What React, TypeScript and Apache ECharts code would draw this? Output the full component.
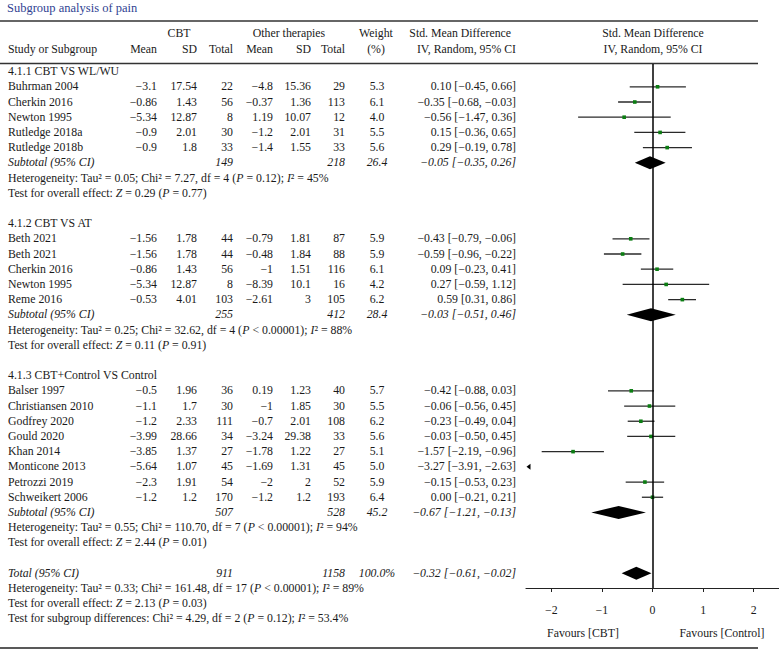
import React, { useEffect, useRef } from "react";
import * as echarts from "echarts";

const FONT = '"Liberation Serif", "Times New Roman", serif';
const FS = 11.8;
const TXT = "#1a1a1a";

// ---------- data ----------
const groupTitles = ["4.1.1 CBT VS WL/WU", "4.1.2 CBT VS AT", "4.1.3 CBT+Control VS Control"];
const studyGroup = [0, 0, 0, 0, 0, 1, 1, 1, 1, 1, 2, 2, 2, 2, 2, 2, 2, 2];
const studyNames = [
  "Buhrman 2004", "Cherkin 2016", "Newton 1995", "Rutledge 2018a", "Rutledge 2018b",
  "Beth 2021", "Beth 2021", "Cherkin 2016", "Newton 1995", "Reme 2016",
  "Balser 1997", "Christiansen 2010", "Godfrey 2020", "Gould 2020", "Khan 2014",
  "Monticone 2013", "Petrozzi 2019", "Schweikert 2006",
];
const cbtMean = [-3.1, -0.86, -5.34, -0.9, -0.9, -1.56, -1.56, -0.86, -5.34, -0.53, -0.5, -1.1, -1.2, -3.99, -3.85, -5.64, -2.3, -1.2];
const cbtSD = [17.54, 1.43, 12.87, 2.01, 1.8, 1.78, 1.78, 1.43, 12.87, 4.01, 1.96, 1.7, 2.33, 28.66, 1.37, 1.07, 1.91, 1.2];
const cbtTotal = [22, 56, 8, 30, 33, 44, 44, 56, 8, 103, 36, 30, 111, 34, 27, 45, 54, 170];
const otherMean = [-4.8, -0.37, 1.19, -1.2, -1.4, -0.79, -0.48, -1, -8.39, -2.61, 0.19, -1, -0.7, -3.24, -1.78, -1.69, -2, -1.2];
const otherSD = [15.36, 1.36, 10.07, 2.01, 1.55, 1.81, 1.84, 1.51, 10.1, 3, 1.23, 1.85, 2.01, 29.38, 1.22, 1.31, 2, 1.2];
const otherTotal = [29, 113, 12, 31, 33, 87, 88, 116, 16, 105, 40, 30, 108, 33, 27, 45, 52, 193];
const weights = [5.3, 6.1, 4.0, 5.5, 5.6, 5.9, 5.9, 6.1, 4.2, 6.2, 5.7, 5.5, 6.2, 5.6, 5.1, 5.0, 5.9, 6.4];
const smd = [0.10, -0.35, -0.56, 0.15, 0.29, -0.43, -0.59, 0.09, 0.27, 0.59, -0.42, -0.06, -0.23, -0.03, -1.57, -3.27, -0.15, 0.00];
const smdLow = [-0.45, -0.68, -1.47, -0.36, -0.19, -0.79, -0.96, -0.23, -0.59, 0.31, -0.88, -0.56, -0.49, -0.50, -2.19, -3.91, -0.53, -0.21];
const smdHigh = [0.66, -0.03, 0.36, 0.65, 0.78, -0.06, -0.22, 0.41, 1.12, 0.86, 0.03, 0.45, 0.04, 0.45, -0.96, -2.63, 0.23, 0.21];

const subCbtTotal = [149, 255, 507];
const subOtherTotal = [218, 412, 528];
const subWeight = [26.4, 28.4, 45.2];
const subSmd = [-0.05, -0.03, -0.67];
const subLow = [-0.35, -0.51, -1.21];
const subHigh = [0.26, 0.46, -0.13];
const hetTau = ["0.05", "0.25", "0.55"];
const hetChi = ["7.27", "32.62", "110.70"];
const hetDf = [4, 4, 7];
const hetP = ["= 0.12", "< 0.00001", "< 0.00001"];
const hetI2 = ["45%", "88%", "94%"];
const effZ = ["0.29", "0.11", "2.44"];
const effP = ["0.77", "0.91", "0.01"];

const totalCbt = 911;
const totalOther = 1158;
const totalWeight = "100.0%";
const totalSmd = -0.32;
const totalLow = -0.61;
const totalHigh = -0.02;
const totalHet = { tau: "0.33", chi: "161.48", df: 17, p: "< 0.00001", i2: "89%" };
const totalEff = { z: "2.13", p: "0.03" };
const subgroupDiff = { chi: "4.29", df: 2, p: "0.12", i2: "53.4%" };

const xTicks = [-2, -1, 0, 1, 2];
const xMin = -2.5;
const xMax = 2.5;

// ---------- layout ----------
const X_NAME = 8, X_MEAN = 157, X_SD = 197, X_N = 233, X_OMEAN = 273, X_OSD = 311, X_ON = 345, X_W = 377, X_SMD = 516;

const minus = (s: string) => s.replace(/^-/, "\u2212");
const fmt = (v: number) => minus(String(v));
const fmt2 = (v: number) => (v < 0 ? "\u2212" : "") + Math.abs(v).toFixed(2);
const ciText = (e: number, l: number, h: number) => `${fmt2(e)} [${fmt2(l)}, ${fmt2(h)}]`;
const hetText = (tau: string, chi: string, df: number, p: string, i2: string) =>
  `Heterogeneity: Tau\u00B2 = ${tau}; Chi\u00B2 = ${chi}, df = ${df} ({i|P} ${p}); {i|I}\u00B2 = ${i2}`;
const effText = (z: string, p: string) => `Test for overall effect: {i|Z} = ${z} ({i|P} = ${p})`;

type Row = { row: number; kind: string; cells: any[] };
const tableRows: Row[] = [];
const studyRows: number[][] = [];
const diamondRows: number[][] = [];
let r = -1;
for (let g = 0; g < groupTitles.length; g++) {
  tableRows.push({ row: r, kind: "head", cells: [groupTitles[g]] });
  r++;
  studyGroup.forEach((sg, i) => {
    if (sg !== g) return;
    tableRows.push({
      row: r, kind: "study",
      cells: [studyNames[i], fmt(cbtMean[i]), fmt(cbtSD[i]), String(cbtTotal[i]), fmt(otherMean[i]), fmt(otherSD[i]), String(otherTotal[i]), weights[i].toFixed(1), ciText(smd[i], smdLow[i], smdHigh[i])],
    });
    studyRows.push([r, smd[i], smdLow[i], smdHigh[i], weights[i]]);
    r++;
  });
  tableRows.push({ row: r, kind: "sub", cells: ["Subtotal (95% CI)", String(subCbtTotal[g]), String(subOtherTotal[g]), subWeight[g].toFixed(1), ciText(subSmd[g], subLow[g], subHigh[g])] });
  diamondRows.push([r, subSmd[g], subLow[g], subHigh[g]]);
  r++;
  tableRows.push({ row: r, kind: "note", cells: [hetText(hetTau[g], hetChi[g], hetDf[g], hetP[g], hetI2[g])] });
  r++;
  tableRows.push({ row: r, kind: "note", cells: [effText(effZ[g], effP[g])] });
  r += 2;
}
tableRows.push({ row: r, kind: "sub", cells: ["Total (95% CI)", String(totalCbt), String(totalOther), totalWeight, ciText(totalSmd, totalLow, totalHigh)] });
diamondRows.push([r, totalSmd, totalLow, totalHigh]);
r++;
tableRows.push({ row: r, kind: "note", cells: [hetText(totalHet.tau, totalHet.chi, totalHet.df, totalHet.p, totalHet.i2)] });
r++;
tableRows.push({ row: r, kind: "note", cells: [effText(totalEff.z, totalEff.p)] });
r++;
tableRows.push({ row: r, kind: "note", cells: [`Test for subgroup differences: Chi\u00B2 = ${subgroupDiff.chi}, df = ${subgroupDiff.df} ({i|P} = ${subgroupDiff.p}); {i|I}\u00B2 = ${subgroupDiff.i2}`] });

const txt = (x: number, y: number, text: string, align: string, italic = false, rich = false): any => ({
  type: "text",
  style: {
    x, y, text,
    fill: TXT,
    fontSize: FS,
    fontFamily: FONT,
    fontStyle: italic ? "italic" : "normal",
    align, textAlign: align,
    verticalAlign: "middle", textVerticalAlign: "middle",
    rich: rich ? { i: { fontStyle: "italic", fontSize: FS, fontFamily: FONT, fill: TXT } } : undefined,
  },
});

export default function App() {
  const ref = useRef<HTMLDivElement>(null);
  useEffect(() => {
    if (!ref.current) return;
    const chart = echarts.init(ref.current, undefined, { renderer: "svg" });
    const headA = 33, headB = 49;
    const option: any = {
      animation: false,
      backgroundColor: "#fff",
      grid: { left: 526, top: 64, width: 254, height: 524 },
      xAxis: {
        type: "value", min: xMin, max: xMax,
        axisLine: { show: true, onZero: false, lineStyle: { color: "#222", width: 1.2 } },
        axisTick: { show: true, length: 4, customValues: xTicks, lineStyle: { color: "#222", width: 1 } },
        axisLabel: {
          customValues: xTicks, margin: 16, color: TXT, fontSize: FS, fontFamily: FONT,
          formatter: (v: number) => fmt(v),
        },
        splitLine: { show: false },
      },
      yAxis: { type: "value", min: -1.5, max: 32.97, inverse: true, show: false },
      graphic: [
        { type: "text", style: { x: 7, y: 8, text: "Subgroup analysis of pain", fill: "#2f3f92", fontSize: 12.5, fontFamily: FONT, verticalAlign: "middle", textVerticalAlign: "middle" } },
        { type: "line", shape: { x1: 0, y1: 21, x2: 758, y2: 21 }, style: { stroke: "#333", lineWidth: 1.5 } },
        { type: "line", shape: { x1: 0, y1: 63.5, x2: 758, y2: 63.5 }, style: { stroke: "#333", lineWidth: 1.3 } },
        { type: "line", shape: { x1: 0, y1: 648, x2: 758, y2: 648 }, style: { stroke: "#222", lineWidth: 1.5 } },
        txt(179, headA, "CBT", "center"),
        txt(289, headA, "Other therapies", "center"),
        txt(376, headA, "Weight", "center"),
        txt(511, headA, "Std. Mean Difference", "right"),
        txt(653, headA, "Std. Mean Difference", "center"),
        txt(X_NAME, headB, "Study or Subgroup", "left"),
        txt(X_MEAN, headB, "Mean", "right"),
        txt(X_SD, headB, "SD", "right"),
        txt(X_N, headB, "Total", "right"),
        txt(X_OMEAN, headB, "Mean", "right"),
        txt(X_OSD, headB, "SD", "right"),
        txt(X_ON, headB, "Total", "right"),
        txt(376, headB, "(%)", "center"),
        txt(X_SMD, headB, "IV, Random, 95% CI", "right"),
        txt(653, headB, "IV, Random, 95% CI", "center"),
        txt(583, 633, "Favours [CBT]", "center"),
        txt(722, 633, "Favours [Control]", "center"),
      ],
      series: [
        {
          type: "custom",
          name: "table",
          silent: true,
          clip: false,
          data: tableRows.map((t, i) => [t.row, i]),
          encode: { y: 0 },
          renderItem: (params: any, api: any) => {
            const t = tableRows[api.value(1)];
            const y = api.coord([0, t.row])[1] - 0.5;
            const c = t.cells;
            const children: any[] = [];
            if (t.kind === "head") children.push(txt(X_NAME, y, c[0], "left"));
            else if (t.kind === "note") children.push(txt(X_NAME, y, c[0], "left", false, true));
            else if (t.kind === "study") {
              const xs = [X_NAME, X_MEAN, X_SD, X_N, X_OMEAN, X_OSD, X_ON, X_W, X_SMD];
              const al = ["left", "right", "right", "right", "right", "right", "right", "center", "right"];
              c.forEach((s, k) => children.push(txt(xs[k], y, s, al[k])));
            } else if (t.kind === "sub") {
              const xs = [X_NAME, X_N, X_ON, X_W, X_SMD];
              const al = ["left", "right", "right", "center", "right"];
              c.forEach((s, k) => children.push(txt(xs[k], y, s, al[k], true)));
            }
            return { type: "group", children };
          },
        },
        {
          type: "custom",
          name: "studies",
          silent: true,
          data: studyRows,
          encode: { x: 1, y: 0 },
          renderItem: (params: any, api: any) => {
            const row = api.value(0), e = api.value(1), l = api.value(2), h = api.value(3);
            if (h < xMin) {
              const p = api.coord([xMin, row]);
              return { type: "polygon", shape: { points: [[p[0] + 0.5, p[1]], [p[0] + 4.5, p[1] - 3], [p[0] + 4.5, p[1] + 3]] }, style: { fill: "#000" } };
            }
            const pl = api.coord([Math.max(l, xMin), row]);
            const ph = api.coord([Math.min(h, xMax), row]);
            const pe = api.coord([e, row]);
            const s = 3.6;
            return {
              type: "group",
              children: [
                { type: "line", shape: { x1: pl[0], y1: pl[1], x2: ph[0], y2: ph[1] }, style: { stroke: "#2a2a2a", lineWidth: 1.3 } },
                { type: "rect", shape: { x: pe[0] - s / 2, y: pe[1] - s / 2, width: s, height: s }, style: { fill: "#0b7d12" } },
              ],
            };
          },
        },
        {
          type: "custom",
          name: "pooled",
          silent: true,
          data: diamondRows,
          encode: { x: 1, y: 0 },
          renderItem: (params: any, api: any) => {
            const row = api.value(0), e = api.value(1), l = api.value(2), h = api.value(3);
            const pl = api.coord([l, row]);
            const ph = api.coord([h, row]);
            const pe = api.coord([e, row]);
            const hh = 6.5;
            return {
              type: "polygon",
              shape: { points: [[pl[0], pl[1]], [pe[0], pe[1] - hh], [ph[0], ph[1]], [pe[0], pe[1] + hh]] },
              style: { fill: "#000" },
            };
          },
          markLine: {
            silent: true,
            symbol: ["none", "none"],
            label: { show: false },
            lineStyle: { color: "#000", width: 1.5, type: "solid" },
            data: [{ xAxis: 0 }],
          },
        },
      ],
    };
    chart.setOption(option);
    return () => chart.dispose();
  }, []);
  return (
    <div
      ref={ref}
      style={{ position: "fixed", left: 0, top: 0, width: 779, height: 649, background: "#fff" }}
    />
  );
}
